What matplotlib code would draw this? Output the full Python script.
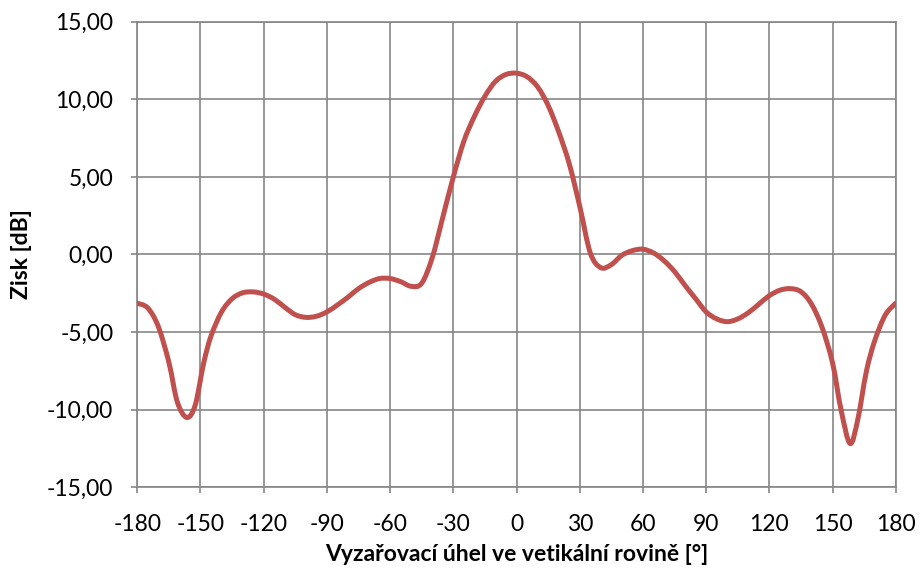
import matplotlib.pyplot as plt
import numpy as np
from matplotlib.path import Path
from matplotlib.patches import PathPatch
from matplotlib.ticker import FuncFormatter

plt.rcParams['font.family'] = ['Lato', 'DejaVu Sans']

# vertical-plane radiation pattern: angle [deg] vs. gain [dB]
angle = [-180, -175, -170, -165, -161, -156.5, -152.5, -148.5, -145, -140,
         -135, -130, -125, -120, -115, -110, -105, -100, -95, -90,
         -85, -80, -75, -70, -65, -60, -55, -50, -45, -40,
         -35, -30, -25, -20, -15, -10, -5, 0, 5, 10,
         15, 20, 25, 30, 35, 40, 45, 50, 55, 60,
         65, 70, 75, 80, 85, 90, 95, 100, 105, 110,
         115, 120, 125, 130, 135, 140, 145, 150, 154, 158.3,
         162, 166, 170, 175, 180]
gain = [-3.14, -3.45, -4.65, -6.95, -9.5, -10.5, -9.7, -7.0, -5.25, -3.7,
        -2.85, -2.47, -2.41, -2.55, -2.88, -3.4, -3.88, -4.05, -3.98, -3.7,
        -3.25, -2.75, -2.2, -1.8, -1.55, -1.55, -1.75, -2.05, -1.85, -0.2,
        2.4, 5.0, 7.3, 8.9, 10.2, 11.15, 11.6, 11.68, 11.45, 10.8,
        9.6, 7.9, 5.85, 3.1, 0.1, -0.85, -0.65, -0.05, 0.25, 0.34,
        0.1, -0.4, -1.1, -2.0, -2.85, -3.7, -4.15, -4.33, -4.15, -3.75,
        -3.2, -2.65, -2.3, -2.2, -2.4, -3.2, -4.7, -7.0, -10.0, -12.18,
        -10.6, -7.55, -5.55, -3.9, -3.14]

x_ticks = list(range(-180, 181, 30))
y_ticks = list(range(-15, 16, 5))

grid_col = '#868686'
line_col = '#C0504D'


def smooth_path(xs, ys):
    # cubic Bezier through every point, like a spreadsheet "smoothed line"
    p = np.column_stack([xs, ys]).astype(float)
    n = len(p)
    verts = [p[0]]
    codes = [Path.MOVETO]
    for i in range(n - 1):
        p0 = p[i - 1] if i > 0 else p[i]
        p3 = p[i + 2] if i + 2 < n else p[i + 1]
        c1 = p[i] + (p[i + 1] - p0) / 6
        c2 = p[i + 1] - (p3 - p[i]) / 6
        verts += [c1, c2, p[i + 1]]
        codes += [Path.CURVE4] * 3
    return Path(verts, codes)


fig = plt.figure(figsize=(9.22, 5.78), dpi=100)
ax = fig.add_axes([0.1489, 0.1569, 0.8227, 0.8056])

ax.add_patch(PathPatch(smooth_path(angle, gain), fill=False, edgecolor=line_col,
                       lw=3.6, joinstyle='round', capstyle='round', zorder=3))

ax.set_xlim(-180, 180)
ax.set_ylim(-15, 15)
ax.set_xticks(x_ticks)
ax.set_yticks(y_ticks)
ax.xaxis.set_major_formatter(FuncFormatter(lambda v, p: f"{v:.0f}"))
ax.yaxis.set_major_formatter(FuncFormatter(lambda v, p: f"{v:.2f}".replace('.', ',')))

ax.grid(True, color=grid_col, lw=1.2)
ax.set_axisbelow(True)
for s in ax.spines.values():
    s.set_color(grid_col)
    s.set_linewidth(1.2)

ax.tick_params(axis='both', colors=grid_col, labelcolor='black',
               labelsize=16.5, length=4.3, width=1.2, direction='out')
ax.tick_params(axis='x', pad=15)
ax.tick_params(axis='y', pad=13)

ax.set_xlabel('Vyzařovací úhel ve vetikální rovině [°]', fontsize=16.5,
              fontweight='bold', va='center')
ax.set_ylabel('Zisk [dB]', fontsize=16.5, fontweight='bold', va='center')
ax.xaxis.set_label_coords(0.5, -0.145)
ax.yaxis.set_label_coords(-0.152, 0.5)

fig.savefig('out.png', dpi=100)
